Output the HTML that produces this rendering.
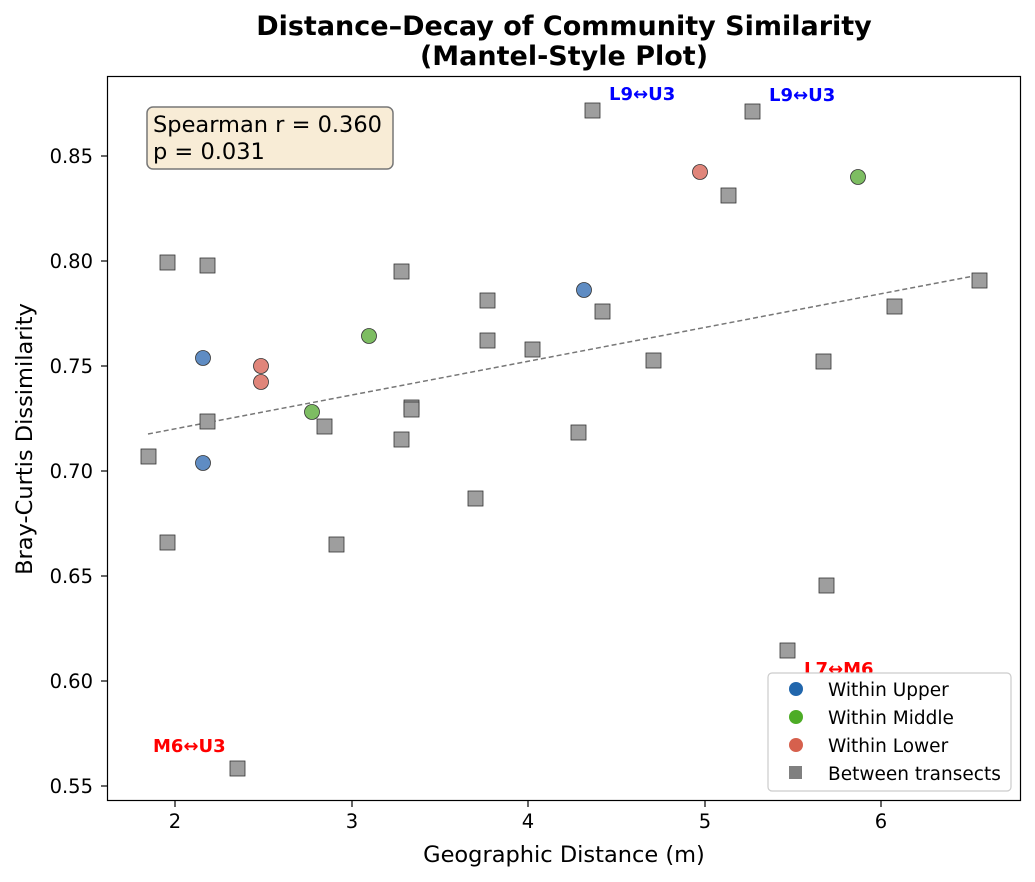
<!DOCTYPE html>
<html><head><meta charset="utf-8"><style>body{margin:0;background:#fff}svg{display:block;font-family:"DejaVu Sans","Liberation Sans",sans-serif}</style></head><body>
<svg width="1035" height="882" xmlns="http://www.w3.org/2000/svg">
<text x="564" y="35" text-anchor="middle" font-size="27" font-weight="bold">Distance–Decay of Community Similarity</text>
<text x="564" y="65" text-anchor="middle" font-size="27" font-weight="bold">(Mantel-Style Plot)</text>
<line x1="148" y1="434" x2="979" y2="275" stroke="#777" stroke-width="1.5" stroke-dasharray="5,3"/>
<g fill="#9e9e9e" stroke="#333" stroke-width="0.8">
<rect x="160" y="255" width="15" height="15"/><rect x="200" y="258" width="15" height="15"/><rect x="141" y="449" width="15" height="15"/><rect x="160" y="535" width="15" height="15"/><rect x="200" y="414" width="15" height="15"/><rect x="230" y="761" width="15" height="15"/><rect x="329" y="537" width="15" height="15"/><rect x="317" y="419" width="15" height="15"/><rect x="394" y="264" width="15" height="15"/><rect x="394" y="432" width="15" height="15"/><rect x="404" y="400" width="15" height="15"/><rect x="404" y="402" width="15" height="15"/><rect x="468" y="491" width="15" height="15"/><rect x="480" y="293" width="15" height="15"/><rect x="480" y="333" width="15" height="15"/><rect x="525" y="342" width="15" height="15"/><rect x="571" y="425" width="15" height="15"/><rect x="585" y="103" width="15" height="15"/><rect x="595" y="304" width="15" height="15"/><rect x="646" y="353" width="15" height="15"/><rect x="721" y="188" width="15" height="15"/><rect x="745" y="104" width="15" height="15"/><rect x="780" y="643" width="15" height="15"/><rect x="816" y="354" width="15" height="15"/><rect x="819" y="578" width="15" height="15"/><rect x="887" y="299" width="15" height="15"/><rect x="972" y="273" width="15" height="15"/>
</g>
<g stroke="#333" stroke-width="0.8">
<circle cx="203" cy="358" r="7.5" fill="#5f8cc3"/><circle cx="203" cy="463" r="7.5" fill="#5f8cc3"/><circle cx="584" cy="290" r="7.5" fill="#5f8cc3"/>
<circle cx="312" cy="412" r="7.5" fill="#7dbd62"/><circle cx="369" cy="336" r="7.5" fill="#7dbd62"/><circle cx="858" cy="177" r="7.5" fill="#7dbd62"/>
<circle cx="261" cy="366" r="7.5" fill="#e0857a"/><circle cx="261" cy="382" r="7.5" fill="#e0857a"/><circle cx="700" cy="172" r="7.5" fill="#e0857a"/>
</g>
<g font-size="18" font-weight="bold">
<text x="609" y="100" fill="#0000ff">L9↔U3</text><text x="769" y="101" fill="#0000ff">L9↔U3</text>
<text x="804" y="675" fill="#ff0000">L7↔M6</text><text x="153" y="752" fill="#ff0000">M6↔U3</text>
</g>
<rect x="107.5" y="76.5" width="913" height="724" fill="none" stroke="#000" stroke-width="1.2"/>
<rect x="147" y="107" width="246" height="62" rx="6" fill="#f8ecd6" stroke="#777" stroke-width="1.5"/>
<text x="153" y="132" font-size="22.5">Spearman r = 0.360</text><text x="153" y="159" font-size="22.5">p = 0.031</text>
<rect x="768" y="673" width="243" height="118" rx="4" fill="#fff" stroke="#ccc" stroke-width="1.2"/>
<circle cx="796" cy="689" r="7" fill="#2166ac"/><circle cx="796" cy="717" r="7" fill="#4dac26"/><circle cx="796" cy="745" r="7" fill="#d6604d"/><rect x="789" y="766" width="13" height="13" fill="#808080"/>
<g font-size="18.5"><text x="828" y="696">Within Upper</text><text x="828" y="724">Within Middle</text><text x="828" y="752">Within Lower</text><text x="828" y="780">Between transects</text></g>
<g stroke="#000" stroke-width="1.2">
<line x1="175" y1="801" x2="175" y2="807"/><line x1="352" y1="801" x2="352" y2="807"/><line x1="528" y1="801" x2="528" y2="807"/><line x1="705" y1="801" x2="705" y2="807"/><line x1="881" y1="801" x2="881" y2="807"/>
<line x1="101" y1="786" x2="107" y2="786"/><line x1="101" y1="681" x2="107" y2="681"/><line x1="101" y1="576" x2="107" y2="576"/><line x1="101" y1="471" x2="107" y2="471"/><line x1="101" y1="366" x2="107" y2="366"/><line x1="101" y1="261" x2="107" y2="261"/><line x1="101" y1="156" x2="107" y2="156"/>
</g>
<g font-size="19.5" text-anchor="middle"><text x="175" y="828">2</text><text x="352" y="828">3</text><text x="528" y="828">4</text><text x="705" y="828">5</text><text x="881" y="828">6</text></g>
<g font-size="19.5" text-anchor="end"><text x="93" y="793">0.55</text><text x="93" y="688">0.60</text><text x="93" y="583">0.65</text><text x="93" y="478">0.70</text><text x="93" y="373">0.75</text><text x="93" y="268">0.80</text><text x="93" y="163">0.85</text></g>
<text x="564" y="862" text-anchor="middle" font-size="22.5">Geographic Distance (m)</text>
<text transform="translate(32,439) rotate(-90)" text-anchor="middle" font-size="22.5">Bray-Curtis Dissimilarity</text>
</svg></body></html>
